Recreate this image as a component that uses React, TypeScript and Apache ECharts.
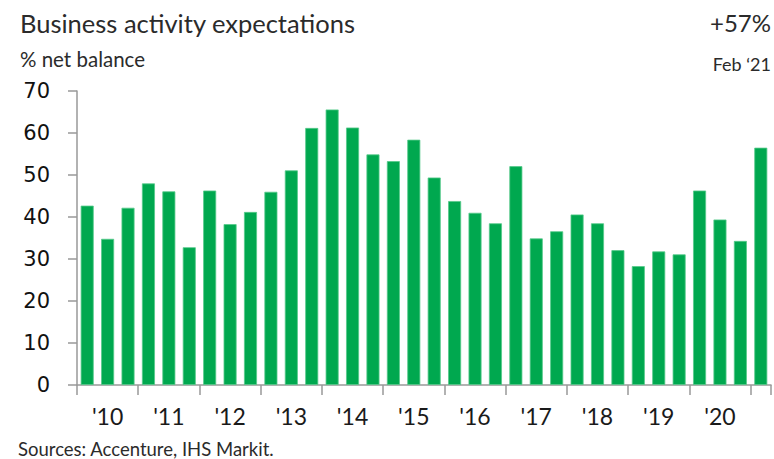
import React, { useEffect, useRef } from "react";
import * as echarts from "echarts";

const periods: string[] = [
  "Feb 10", "Jun 10", "Oct 10", "Feb 11", "Jun 11", "Oct 11", "Feb 12", "Jun 12", "Oct 12",
  "Feb 13", "Jun 13", "Oct 13", "Feb 14", "Jun 14", "Oct 14", "Feb 15", "Jun 15", "Oct 15",
  "Feb 16", "Jun 16", "Oct 16", "Feb 17", "Jun 17", "Oct 17", "Feb 18", "Jun 18", "Oct 18",
  "Feb 19", "Jun 19", "Oct 19", "Feb 20", "Jun 20", "Oct 20", "Feb 21",
];
const yearLabels: string[] = ["'10", "'11", "'12", "'13", "'14", "'15", "'16", "'17", "'18", "'19", "'20"];
const values: number[] = [
  42.7, 34.8, 42.2, 48.0, 46.1, 32.8, 46.3, 38.3, 41.2,
  46.0, 51.1, 61.2, 65.6, 61.3, 54.9, 53.3, 58.4, 49.4,
  43.8, 41.0, 38.5, 52.1, 34.9, 36.6, 40.6, 38.5, 32.1,
  28.3, 31.8, 31.1, 46.3, 39.4, 34.3, 56.5,
];
const yTicks = { min: 0, max: 70, interval: 10 };
const titleText = "Business activity expectations";
const subtitleText = "% net balance";
const headlineValue = "+57%";
const headlineDate = "Feb \u201821";
const sourceText = "Sources: Accenture, IHS Markit.";

const condensed = "'Liberation Sans Narrow', 'Arial Narrow', Lato, sans-serif";

export default function App() {
  const ref = useRef<HTMLDivElement>(null);
  useEffect(() => {
    if (!ref.current) return;
    const chart = echarts.init(ref.current, null, { renderer: "svg" });
    chart.setOption({
      animation: false,
      backgroundColor: "#ffffff",
      grid: { left: 77, right: 3, top: 91, bottom: 74, containLabel: false },
      xAxis: {
        type: "category",
        data: periods,
        boundaryGap: true,
        axisLine: { show: true, lineStyle: { color: "#999999", width: 1.5 } },
        axisTick: {
          show: true,
          length: 10,
          interval: (i: number) => i % 3 === 0,
          lineStyle: { color: "#999999", width: 1.5 },
        },
        axisLabel: {
          interval: 0,
          margin: 19,
          color: "#1a1a1a",
          fontSize: 23,
          fontFamily: condensed,
          formatter: (_v: string, i: number) => (i % 3 === 1 ? yearLabels[Math.floor(i / 3)] ?? "" : ""),
        },
        splitLine: { show: false },
      },
      yAxis: {
        type: "value",
        min: yTicks.min,
        max: yTicks.max,
        interval: yTicks.interval,
        axisLine: { show: true, lineStyle: { color: "#999999", width: 1.5 } },
        axisTick: { show: true, length: 9, lineStyle: { color: "#999999", width: 1.5 } },
        axisLabel: { margin: 27, color: "#111111", fontSize: 21, fontFamily: "'DejaVu Sans', sans-serif" },
        splitLine: { show: false },
      },
      series: [
        {
          type: "bar",
          data: values,
          barWidth: 13,
          itemStyle: { color: "#00a84f", borderColor: "#55c98a", borderWidth: 0.8 },
        },
      ],
      graphic: [
        {
          type: "text",
          left: 20,
          top: 10,
          style: { text: titleText, fontSize: 25.5, fontFamily: "Lato, sans-serif", fill: "#2b2b2b" },
        },
        {
          type: "text",
          left: 20,
          top: 48,
          style: { text: subtitleText, fontSize: 20.5, fontFamily: "Lato, sans-serif", fill: "#2b2b2b" },
        },
        {
          type: "text",
          right: 3,
          top: 10,
          style: { text: headlineValue, fontSize: 24, fontFamily: "Lato, sans-serif", fill: "#2b2b2b" },
        },
        {
          type: "text",
          right: 3,
          top: 55,
          style: { text: headlineDate, fontSize: 18, fontFamily: "Lato, sans-serif", fill: "#2b2b2b" },
        },
        {
          type: "text",
          left: 18,
          top: 439,
          style: { text: sourceText, fontSize: 18.5, fontFamily: condensed, fill: "#2b2b2b" },
        },
      ],
    });
    return () => chart.dispose();
  }, []);
  return (
    <div
      ref={ref}
      style={{ position: "fixed", left: 0, top: 0, width: 774, height: 459, background: "#fff" }}
    />
  );
}
